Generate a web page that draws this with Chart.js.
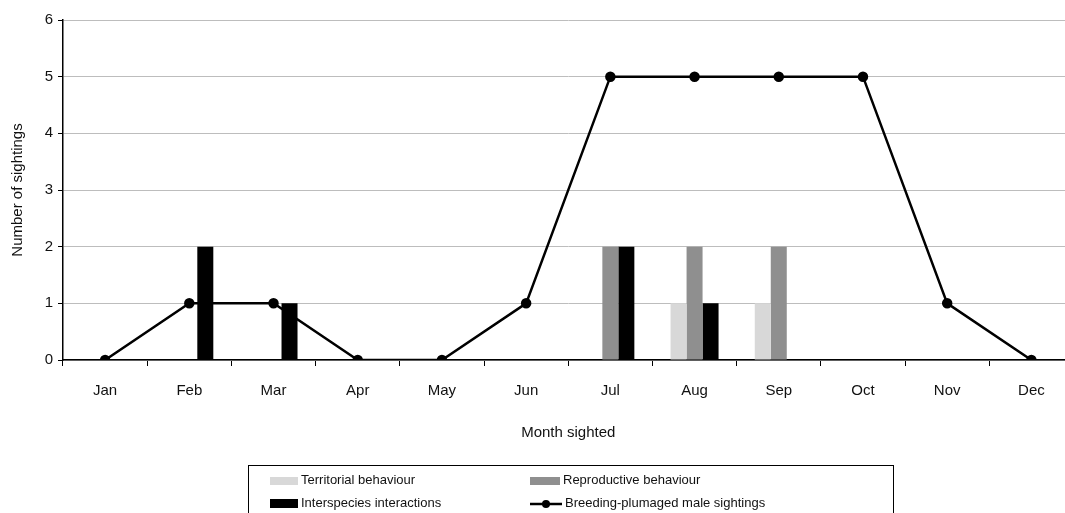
<!DOCTYPE html>
<html>
<head>
<meta charset="utf-8">
<script src="https://cdn.jsdelivr.net/npm/chart.js@4"></script>
<style>
  html, body { margin: 0; padding: 0; background: #fff; overflow: hidden; }
  #wrap { position: absolute; left: 0; top: 0; width: 1080px; height: 513px; }
  #legend { position: absolute; left: 248px; top: 465px; width: 644px; height: 70px;
    border: 1px solid #000; font: 13px "Liberation Sans", Arial, sans-serif; color: #111; }
  .item { position: absolute; height: 18px; line-height: 18px; white-space: nowrap; }
  .sw { display: inline-block; vertical-align: middle; margin-right: 3px; }
</style>
</head>
<body>
<div id="wrap"><canvas id="my-chart"></canvas></div>
<div id="legend"></div>
<script>
const months = ["Jan","Feb","Mar","Apr","May","Jun","Jul","Aug","Sep","Oct","Nov","Dec"];
const territorial  = [0,0,0,0,0,0,0,1,1,0,0,0];
const reproductive = [0,0,0,0,0,0,2,2,2,0,0,0];
const interspecies = [0,2,1,0,0,0,2,1,0,0,0,0];
const breedingMales = [0,1,1,0,0,1,5,5,5,5,1,0];

const labelFont = { family: "Liberation Sans", size: 15 };
const ctx = document.querySelector("#my-chart");

new Chart(ctx, {
  data: {
    labels: months,
    datasets: [
      { type: 'line', label: 'Breeding-plumaged male sightings', data: breedingMales,
        borderColor: '#000', backgroundColor: '#000', borderWidth: 2.5,
        pointRadius: 4, pointBackgroundColor: '#000', tension: 0, order: 0 },
      { type: 'bar', label: 'Territorial behaviour', data: territorial,
        backgroundColor: '#d8d8d8', order: 1 },
      { type: 'bar', label: 'Reproductive behaviour', data: reproductive,
        backgroundColor: '#8f8f8f', order: 1 },
      { type: 'bar', label: 'Interspecies interactions', data: interspecies,
        backgroundColor: '#000', order: 1 }
    ]
  },
  options: {
    responsive: true,
    maintainAspectRatio: false,
    animation: false,
    datasets: { bar: { categoryPercentage: 0.57, barPercentage: 1.0 } },
    layout: { padding: { top: 20, right: 6, left: 0, bottom: 65 } },
    plugins: { legend: { display: false }, tooltip: { enabled: false } },
    scales: {
      x: {
        offset: true,
        grid: { offset: true, drawOnChartArea: false, color: '#000', tickLength: 6 },
        border: { color: '#000', width: 1.5 },
        ticks: { color: '#111', font: labelFont, padding: 16 },
        title: { display: true, text: 'Month sighted', color: '#111', font: labelFont,
                 padding: { top: 8, bottom: 6 } }
      },
      y: {
        min: 0, max: 6,
        afterFit: (s) => { s.width = 63; },
        grid: { color: '#bdbdbd', tickColor: '#000', tickLength: 5 },
        border: { color: '#000', width: 1.5 },
        ticks: { stepSize: 1, color: '#111', font: labelFont, padding: 5 },
        title: { display: true, text: 'Number of sightings', color: '#111', font: labelFont,
                 padding: { top: 9, bottom: 0 } }
      }
    }
  }
});

// two-column boxed legend like the original figure
const legendItems = [
  { text: 'Territorial behaviour', x: 21, y: 5, sw: '<span class="sw" style="width:28px;height:8px;background:#d8d8d8"></span>' },
  { text: 'Reproductive behaviour', x: 281, y: 5, sw: '<span class="sw" style="width:30px;height:8px;background:#8f8f8f"></span>' },
  { text: 'Interspecies interactions', x: 21, y: 28, sw: '<span class="sw" style="width:28px;height:9px;background:#000"></span>' },
  { text: 'Breeding-plumaged male sightings', x: 281, y: 28,
    sw: '<svg class="sw" width="32" height="10"><line x1="0" y1="5" x2="32" y2="5" stroke="#000" stroke-width="2.5"/><circle cx="16" cy="5" r="4" fill="#000"/></svg>' }
];
const legendBox = document.querySelector("#legend");
for (const it of legendItems) {
  const d = document.createElement("div");
  d.className = "item";
  d.style.left = it.x + "px";
  d.style.top = it.y + "px";
  d.innerHTML = it.sw + it.text;
  legendBox.appendChild(d);
}
</script>
</body>
</html>
